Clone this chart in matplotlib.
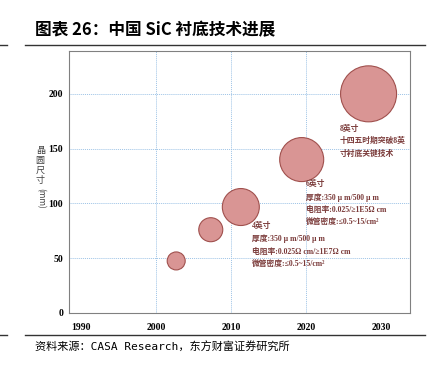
import matplotlib.pyplot as plt
import matplotlib.lines as mlines

plt.rcParams['font.family'] = ['Liberation Serif', 'Noto Sans CJK SC']

# data
years = [2002.7, 2007.3, 2011.3, 2019.4, 2028.3]
wafer_mm = [47.5, 76, 96.7, 140, 200]
bubble_size = [168, 299, 709, 1004, 1625]
x_ticks = [1990, 2000, 2010, 2020, 2030]
y_ticks = [0, 50, 100, 150, 200]

note_4 = "4英寸\n厚度:350 μ m/500 μ m\n电阻率:0.025Ω cm/≥1E7Ω cm\n微管密度:≤0.5~15/cm²"
note_6 = "6英寸\n厚度:350 μ m/500 μ m\n电阻率:0.025/≥1E5Ω cm\n微管密度:≤0.5~15/cm²"
note_8 = "8英寸\n十四五时期突破8英\n寸衬底关键技术"
ylabel_chars = ["晶", "圆", "尺", "寸"]

fig = plt.figure(figsize=(4.37, 3.65), dpi=100)
ax = fig.add_axes([0.159, 0.1425, 0.779, 0.7175])

ax.scatter(years, wafer_mm, s=bubble_size, color='#D99594',
           edgecolor='#A0504D', linewidth=0.8, zorder=3)

ax.set_xlim(1988.5, 2033.8)
ax.set_ylim(0, 239)
ax.set_xticks(x_ticks)
ax.set_yticks(y_ticks)
ax.tick_params(axis='y', length=0, labelsize=7, pad=4.5)
ax.tick_params(axis='x', length=0, labelsize=7, pad=7)
for lab in ax.get_xticklabels() + ax.get_yticklabels():
    lab.set_fontweight('bold')

for x in [2000, 2010, 2020]:
    ax.axvline(x, color='#9DC3E6', lw=0.7, ls=(0, (1, 1)), zorder=1)
for y in [50, 100, 150, 200]:
    ax.axhline(y, color='#9DC3E6', lw=0.7, ls=(0, (1, 1)), zorder=1)
for sp in ax.spines.values():
    sp.set_color('#808080')
    sp.set_linewidth(0.8)

txt_color = '#7B3B3A'
kw = dict(fontsize=5.6, color=txt_color, fontweight='bold', va='top', ha='left',
          linespacing=1.7, zorder=4)
ax.text(2012.8, 83, note_4, **kw)
ax.text(2020.0, 121, note_6, **kw)
ax.text(2024.5, 172, note_8, **kw)

cjk = ['Noto Sans CJK SC', 'DejaVu Sans']
# y label stacked one character per line
for i, ch in enumerate(ylabel_chars):
    fig.text(0.092, 1 - (150 + i * 10) / 365, ch, fontsize=6.5, color='#404040',
             rotation=0, ha='center', va='center', family=cjk)
fig.text(0.092, 1 - 198 / 365, "(mm)", fontsize=6, color='#404040', rotation=-90,
         ha='center', va='center', family=cjk)

fig.text(0.08, 0.918, "图表 26：中国 SiC 衬底技术进展", fontsize=12, fontweight='bold',
         family=cjk, ha='left', va='center')
fig.text(0.08, 0.048, "资料来源：CASA Research，东方财富证券研究所", fontsize=8,
         family=['DejaVu Sans Mono', 'Noto Sans CJK SC'], ha='left', va='center')

for y in [1 - 45 / 365, 1 - 335 / 365]:
    fig.add_artist(mlines.Line2D([25 / 437, 425 / 437], [y, y], color='#333333', lw=1))
    fig.add_artist(mlines.Line2D([0, 7 / 437], [y, y], color='#333333', lw=1))

fig.savefig('out.png', dpi=100)
